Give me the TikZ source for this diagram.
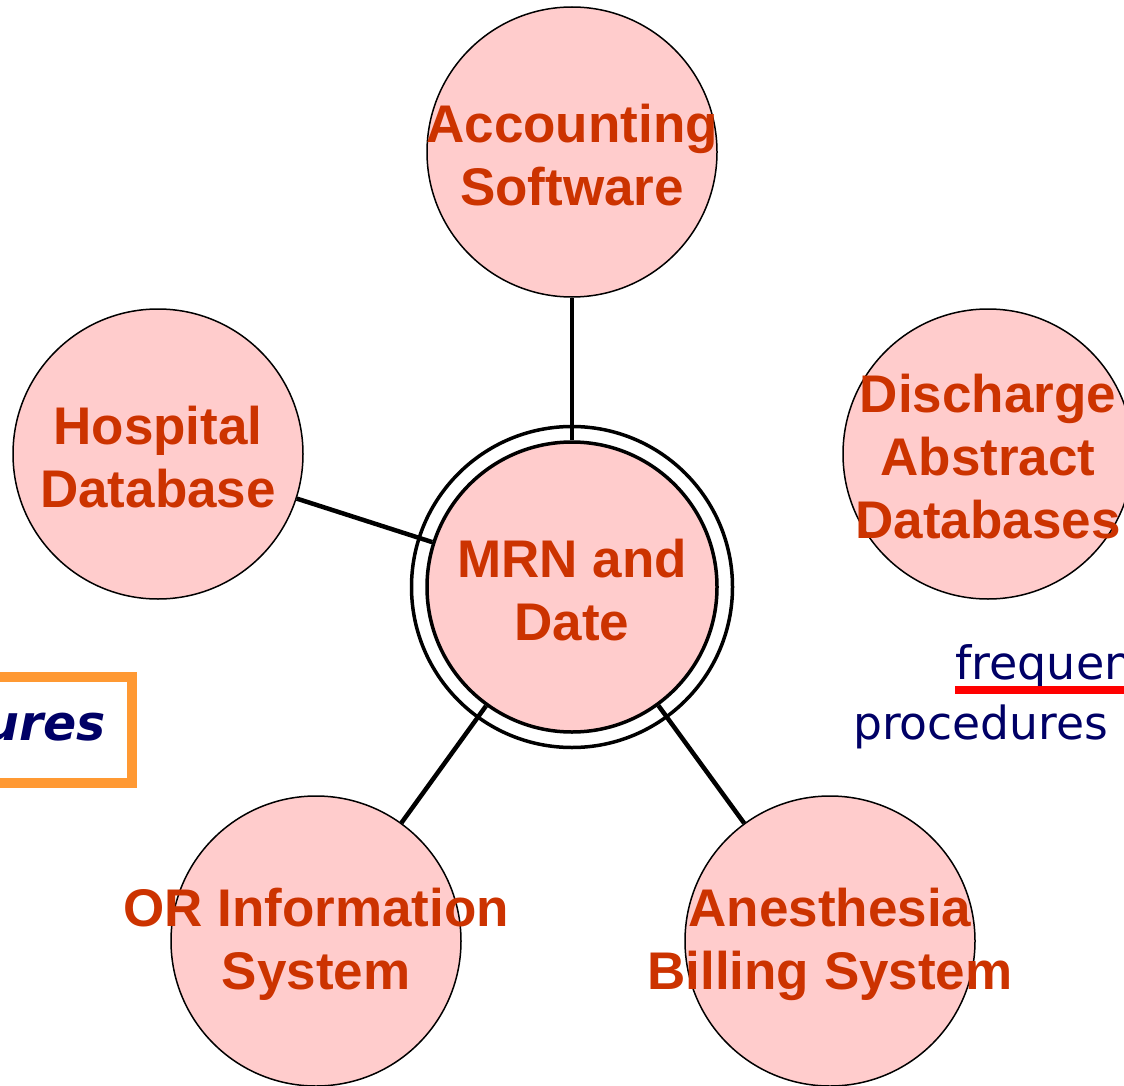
\documentclass[tikz,border=0pt]{standalone}
\usepackage{fontspec}
\setmainfont{Liberation Sans}
\newfontfamily\dejavu{DejaVu Sans}
\definecolor{bubblefill}{RGB}{255,204,204}
\definecolor{labelred}{RGB}{204,51,0}
\definecolor{navyink}{RGB}{0,0,102}
\definecolor{boxorange}{RGB}{255,153,51}
\definecolor{squiggle}{RGB}{255,0,0}
\tikzset{
  bubble/.style={circle, draw=black, line width=1.5pt, fill=bubblefill, minimum size=290pt, inner sep=0pt},
  hub/.style={circle, draw=black, line width=3.5pt, fill=bubblefill, minimum size=290pt, inner sep=0pt},
  hubring/.style={circle, draw=black, line width=3.5pt, fill=white, minimum size=321pt, inner sep=0pt},
  lbl/.style={align=center, text=labelred, font=\bfseries\fontsize{53}{63}\selectfont, inner sep=0pt, yshift=-3pt},
  link/.style={line width=4.5pt, black},
}
\begin{document}
\begin{tikzpicture}[x=1pt,y=-1pt]
\useasboundingbox (0,0) rectangle (1124,1086);
% left orange box (cut off)
\draw[boxorange, line width=10pt, fill=white] (-60,677) rectangle (132,783);
\node[anchor=base east, inner sep=0pt, text=navyink, font=\dejavu\bfseries\itshape\fontsize{49}{55}\selectfont] (boxtxt) at (106,740) {ures};
% right text (cut off)
\node[anchor=base west, inner sep=0pt, text=navyink, font=\dejavu\fontsize{46}{52}\selectfont] (freq) at (955,679) {frequen};
\node[anchor=base west, inner sep=0pt, text=navyink, font=\dejavu\fontsize{45.6}{52}\selectfont] (proc) at (853,739) {procedures};
\fill[squiggle] (955,686) rectangle (1130,694);
% bubbles
\node[hubring] (ring) at (572,587) {};
\node[hub] (mrn) at (572,587) {};
\node[bubble] (acc) at (572,152) {};
\node[bubble] (hosp) at (158,454) {};
\node[bubble] (dis) at (988,454) {};
\node[bubble] (ori) at (316,941) {};
\node[bubble] (anes) at (830,941) {};
% connectors
\draw[link] (acc) -- (mrn);
\draw[link] (hosp) -- (mrn);
\draw[link] (ori) -- (mrn);
\draw[link] (anes) -- (mrn);
% labels
\node[lbl] at (mrn) {MRN and\\Date};
\node[lbl] at (acc) {Accounting\\Software};
\node[lbl] at (hosp) {Hospital\\Database};
\node[lbl] at (dis) {Discharge\\Abstract\\Databases};
\node[lbl] at (ori) {OR Information\\System};
\node[lbl] at (anes) {Anesthesia\\Billing System};
\end{tikzpicture}
\end{document}
